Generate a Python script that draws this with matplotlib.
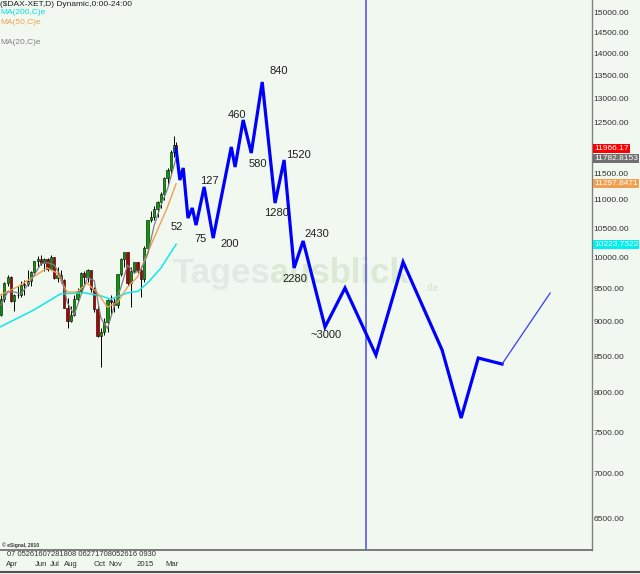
import numpy as np
import pandas as pd
import matplotlib
matplotlib.use("Agg")
import matplotlib.pyplot as plt
import matplotlib.dates as mdates
from matplotlib.lines import Line2D
from matplotlib.ticker import FixedLocator, NullLocator, FuncFormatter

plt.rcParams['font.family'] = ['Liberation Sans', 'DejaVu Sans']

BG = '#f0f8f0'

# weekly DAX candles (Mar 2014 - Mar 2015)
week_dates = list(pd.date_range('2014-03-21', '2015-03-20', freq='W-FRI')) + [pd.Timestamp('2015-03-24')]
opens = [9100, 9342, 9587, 9695, 9315, 9409, 9402, 9556, 9581, 9630, 9768, 9943, 9987, 9912, 9987, 9816,
         10009, 9666, 9720, 9644, 9210, 9009, 9092, 9340, 9470, 9747, 9691, 9799, 9490, 9195, 8788, 8850,
         8988, 9326, 9291, 9252, 9732, 9980, 10087, 9594, 9786, 9922, 9806, 9648, 10167, 10649, 10694,
         10846, 10963, 11100, 11400, 11550, 11901, 12040]
highs = [9400, 9600, 9721, 9700, 9420, 9550, 9620, 9640, 9800, 9790, 9950, 10030, 10050, 10000, 9990, 10050,
         10010, 9850, 9800, 9650, 9350, 9240, 9400, 9520, 9760, 9780, 9810, 9800, 9530, 9250, 8900, 9050,
         9340, 9400, 9350, 9740, 10000, 10093, 10090, 9850, 9930, 9930, 9830, 10200, 10650, 10800, 10900,
         10990, 11150, 11420, 11600, 11950, 12220, 12100]
lows = [9090, 9300, 9550, 9300, 9165, 9350, 9380, 9400, 9550, 9550, 9750, 9850, 9880, 9780, 9780, 9800,
        9650, 9600, 9590, 9200, 8900, 9000, 9080, 9300, 9440, 9580, 9600, 9450, 9150, 8780, 8355, 8800,
        8850, 9100, 9150, 9200, 9700, 9850, 9550, 9220, 9750, 9750, 9380, 9600, 10100, 10600, 10650,
        10700, 10850, 11000, 11250, 11480, 11800, 11900]
closes = [9342, 9587, 9695, 9315, 9409, 9402, 9556, 9581, 9630, 9768, 9943, 9987, 9912, 9987, 9816, 10009,
          9666, 9720, 9644, 9210, 9009, 9092, 9340, 9470, 9747, 9691, 9799, 9490, 9195, 8788, 8850, 8988,
          9326, 9291, 9252, 9732, 9980, 10087, 9594, 9786, 9922, 9806, 9648, 10167, 10649, 10694, 10846,
          10963, 11100, 11400, 11550, 11901, 12040, 11966]

# moving averages
ma200_dates = ['2014-03-19', '2014-05-28', '2014-07-24', '2014-09-11', '2014-10-17', '2014-11-07',
               '2014-12-13', '2015-01-03', '2015-01-24', '2015-02-20', '2015-03-24']
ma200_values = [8920, 9170, 9420, 9440, 9390, 9340, 9440, 9460, 9600, 9830, 10224]

ma50_dates = ['2014-03-19', '2014-04-24', '2014-05-28', '2014-06-26', '2014-07-17', '2014-08-07',
              '2014-08-28', '2014-09-18', '2014-10-10', '2014-10-31', '2014-11-21', '2014-12-12',
              '2015-01-02', '2015-01-23', '2015-02-13', '2015-03-06', '2015-03-24']
ma50_values = [9403, 9528, 9688, 9833, 9751, 9450, 9450, 9592, 9434, 9216, 9294, 9528,
               9688, 10078, 10469, 10873, 11298]

ma20_dates = ['2014-03-21', '2014-04-04', '2014-04-18', '2014-05-02', '2014-05-16', '2014-05-30',
              '2014-06-13', '2014-06-27', '2014-07-11', '2014-07-25', '2014-08-08', '2014-08-22',
              '2014-09-05', '2014-09-19', '2014-10-03', '2014-10-17', '2014-10-31', '2014-11-14',
              '2014-11-28', '2014-12-12', '2014-12-26', '2015-01-09', '2015-01-23', '2015-02-06',
              '2015-02-20', '2015-03-06', '2015-03-24']
ma20_values = [9250, 9450, 9450, 9420, 9560, 9720, 9900, 9920, 9880, 9700, 9280, 9100, 9400, 9680,
               9630, 9050, 8900, 9230, 9520, 9880, 9750, 9800, 10050, 10550, 10900, 11200, 11783]

# projected path
proj_dates = ['2015-03-24', '2015-04-01', '2015-04-08', '2015-04-18', '2015-04-27', '2015-05-05',
              '2015-05-22', '2015-06-10', '2015-07-18', '2015-07-26', '2015-08-12', '2015-08-29',
              '2015-09-21', '2015-10-18', '2015-11-06', '2015-11-27', '2015-12-16', '2016-01-31',
              '2016-03-13', '2016-05-17', '2016-07-13', '2016-10-03', '2016-11-12', '2016-12-18',
              '2017-02-06']
proj_values = [11966, 11368, 11596, 10677, 10855, 10554, 11238, 10330, 12005, 11615, 12552, 11886,
               13364, 10945, 11750, 9833, 10280, 8920, 9513, 8517, 9930, 8588, 7676, 8475, 8391]
ext_dates = ['2017-02-06', '2017-05-18']
ext_values = [8391, 9434]
marker_date = '2016-04-26'

# wave labels: vertex index in projection, text
wave_idx = [3, 5, 6, 7, 10, 11, 12, 13, 14, 15, 16, 17]
wave_text = ['52', '75', '127', '200', '460', '580', '840', '1280', '1520', '2280', '2430', '~3000']
wave_off = [(-11, -9), (4, -14), (5, 6), (16, -6), (-6, 5), (7, -11), (17, 11), (1, -10),
            (14, 5), (1, -11), (14, 7), (1, -8)]

# last values shown on the price scale
box_values = [11966.17, 11782.8153, 11297.8471, 10223.7522]
box_text = ['11966.17', '11782.8153', '11297.8471', '10223.7522']
box_colors = ['#ff0000', '#707070', '#f0a050', '#00f0f0']

y_ticks = [6500, 7000, 7500, 8000, 8500, 9000, 9500, 10000, 10500, 11000, 11500, 12000,
           12500, 13000, 13500, 14000, 14500, 15000]
month_dates = ['2014-04-01', '2014-06-01', '2014-07-01', '2014-08-01', '2014-10-01', '2014-11-01',
               '2015-01-01', '2015-03-01']
month_labels = ['Apr', 'Jun', 'Jul', 'Aug', 'Oct', 'Nov', '2015', 'Mar']
day_row = '07 05261607281808 06271708052616 0930'


def d(dates):
    return mdates.date2num(pd.to_datetime(dates))


fig = plt.figure(figsize=(6.4, 5.74), dpi=100, facecolor=BG)
ax = fig.add_axes([0, 24 / 574, 592 / 640, 550 / 574], facecolor=BG)
ax.set_yscale('log')
ax.set_ylim(6174, 15300)
ax.set_xlim(d(['2014-03-19'])[0], d(['2017-08-14'])[0])

# watermark
ax.text(270 / 592, 1 - 283 / 550, 'Tages', transform=ax.transAxes, ha='right', va='baseline',
        fontsize=25, fontweight='bold', color='#e3e9e3', zorder=0.5)
ax.text(270 / 592, 1 - 283 / 550, 'ausblick', transform=ax.transAxes, ha='left', va='baseline',
        fontsize=25, fontweight='bold', color='#dbe9d5', zorder=0.5)
ax.text(424 / 592, 1 - 291 / 550, '.de', transform=ax.transAxes, ha='left', va='baseline',
        fontsize=7, fontweight='bold', color='#dce6dc', zorder=0.5)

# candles
x = d(week_dates)
o = np.array(opens)
c = np.array(closes)
colors = ['#00a000' if cc >= oo else '#b00000' for oo, cc in zip(o, c)]
ax.vlines(x, lows, highs, color='black', lw=0.7, zorder=3)
ax.bar(x, c - o, bottom=o, width=4.6, color=colors, edgecolor='black', lw=0.4, zorder=4)

# moving averages
ax.plot(d(ma200_dates), ma200_values, color='#10e8e8', lw=1.1, zorder=5)
ax.plot(d(ma50_dates), ma50_values, color='#f0a050', lw=1.0, zorder=5)
ax.plot(d(ma20_dates), ma20_values, color='#808080', lw=0.9, zorder=5)

# projection
ax.axvline(d([marker_date])[0], color='#5a5ae6', lw=1.2, zorder=2)
px = d(proj_dates)
ax.plot(px, proj_values, color='#0000ff', lw=2.3, zorder=6, solid_joinstyle='miter')
ax.plot(d(ext_dates), ext_values, color='#3a3aff', lw=0.9, zorder=6)

for i, t, off in zip(wave_idx, wave_text, wave_off):
    ax.annotate(t, xy=(px[i], proj_values[i]), xytext=off, textcoords='offset pixels',
                ha='center', va='center', fontsize=8, color='#202020', zorder=7)

# price scale
ax.yaxis.tick_right()
ax.yaxis.set_major_locator(FixedLocator(y_ticks))
ax.yaxis.set_minor_locator(NullLocator())
ax.yaxis.set_major_formatter(FuncFormatter(lambda v, p: f'{v:.2f}'))
ax.yaxis.set_minor_formatter(FuncFormatter(lambda v, p: ''))
ax.tick_params(axis='y', length=0, pad=1, labelsize=6, labelcolor='#303030')

for v, t, col in zip(box_values, box_text, box_colors):
    ax.annotate(t, xy=(1, v), xycoords=ax.get_yaxis_transform(), xytext=(2, 0),
                textcoords='offset pixels', ha='left', va='center', fontsize=6, color='white',
                bbox=dict(boxstyle='square,pad=0.12', fc=col, ec='none'),
                annotation_clip=False, zorder=10)

# time scale
ax.set_xticks(d(month_dates))
ax.set_xticklabels(month_labels)
ax.tick_params(axis='x', length=0, pad=8, labelsize=5.6, labelcolor='#303030')
for lbl in ax.get_xticklabels():
    lbl.set_ha('left')
ax.text(7 / 592, -5 / 550, day_row, transform=ax.transAxes, ha='left', va='center',
        fontsize=5.4, color='#303030')

for s in ['top', 'left']:
    ax.spines[s].set_visible(False)
ax.spines['right'].set_color('#808080')
ax.spines['right'].set_linewidth(1.0)
ax.spines['bottom'].set_color('#707070')
ax.spines['bottom'].set_linewidth(1.3)

ax.text(0.003, 5 / 550, '\u00a9 eSignal, 2010', transform=ax.transAxes, ha='left', va='center',
        fontsize=3.6, fontweight='bold', color='#303030')

# header lines
fig.text(0, 1 - 4 / 574, '($DAX-XET,D) Dynamic,0:00-24:00', fontsize=6, color='#202020', va='center')
fig.text(0, 1 - 13 / 574, 'MA(200,C)e', fontsize=6, color='#00e0e0', va='center')
fig.text(0, 1 - 23 / 574, 'MA(50,C)e', fontsize=6, color='#f0a050', va='center')
fig.text(0, 1 - 43 / 574, 'MA(20,C)e', fontsize=6, color='#808080', va='center')

fig.add_artist(Line2D([0, 1], [2 / 574, 2 / 574], color='#505050', lw=1.5))

fig.savefig('out.png', dpi=100, facecolor=BG)
